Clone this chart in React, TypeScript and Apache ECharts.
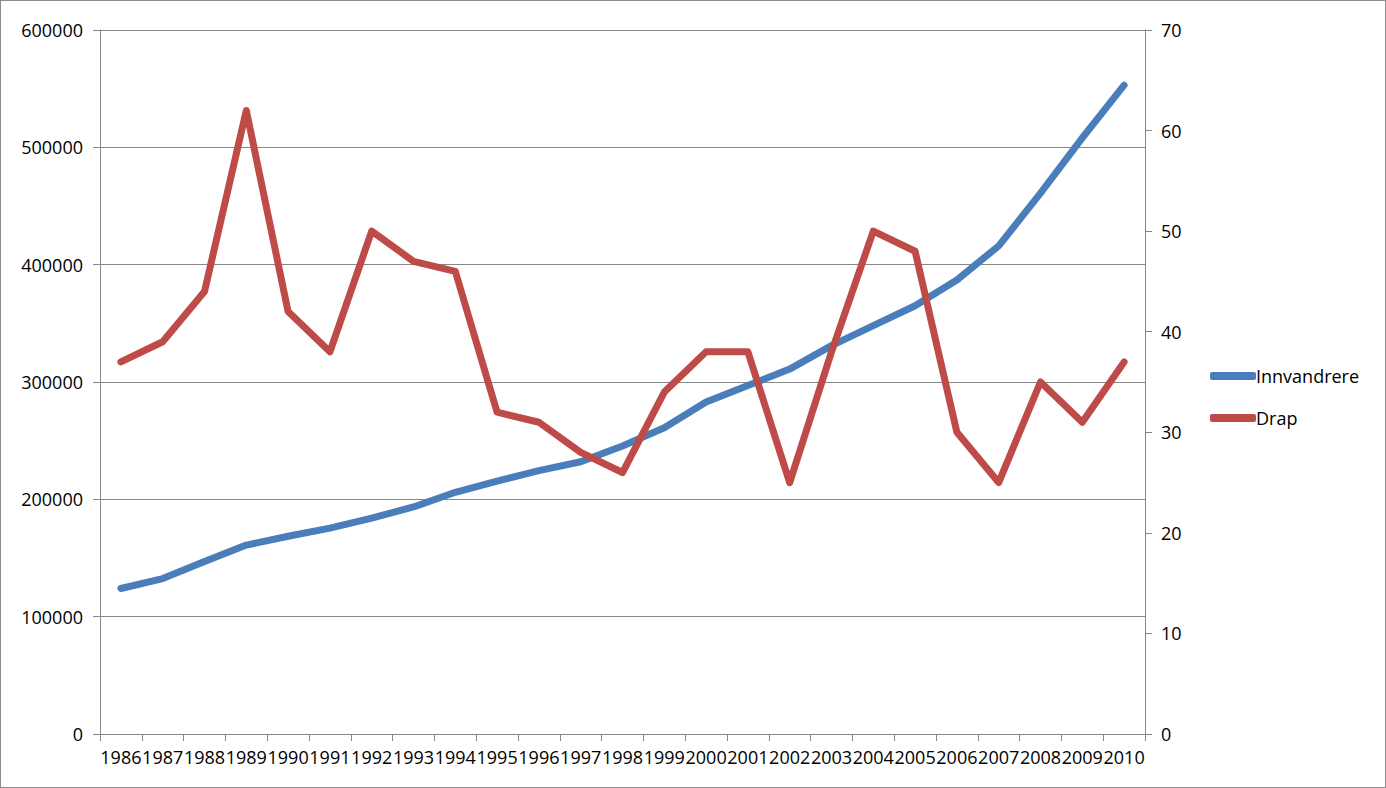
import React, { useEffect, useRef } from "react";
import * as echarts from "echarts";

const years = ["1986","1987","1988","1989","1990","1991","1992","1993","1994","1995","1996","1997","1998","1999","2000","2001","2002","2003","2004","2005","2006","2007","2008","2009","2010"];
const innvandrere = [124000,132500,147000,161000,168500,175500,184000,193500,206000,215500,224500,232000,245500,261000,283000,297000,311000,331000,348000,365000,387000,416000,461000,508000,553000];
const drap = [37,39,44,62,42,38,50,47,46,32,31,28,26,34,38,38,25,38,50,48,30,25,35,31,37];

const FONT = "'Open Sans', 'Noto Sans', sans-serif";
const GRAY = "#878787";

export default function App() {
  const ref = useRef<HTMLDivElement>(null);
  useEffect(() => {
    document.body.style.margin = "0";
    const chart = echarts.init(ref.current!, null, { renderer: "svg" });
    chart.setOption({
      animation: false,
      textStyle: { fontFamily: FONT },
      grid: { left: 99, right: 240, top: 29, bottom: 53, containLabel: false },
      legend: {
        orient: "vertical",
        left: 1204,
        top: 361,
        itemWidth: 46,
        itemHeight: 8,
        itemGap: 24,
        icon: "roundRect",
        textStyle: { fontFamily: FONT, fontSize: 18, color: "#000", padding: [0, 0, 0, -5] },
        data: ["Innvandrere", "Drap"],
      },
      xAxis: {
        type: "category",
        data: years,
        boundaryGap: true,
        axisLine: { lineStyle: { color: GRAY, width: 1 } },
        axisTick: { show: true, length: 7, lineStyle: { color: GRAY } },
        axisLabel: { color: "#000", fontSize: 18, margin: 14, interval: 0, fontFamily: FONT },
        splitLine: { show: false },
      },
      yAxis: [
        {
          type: "value",
          min: 0,
          max: 600000,
          interval: 100000,
          axisLine: { show: true, lineStyle: { color: GRAY } },
          axisTick: { show: true, length: 7, lineStyle: { color: GRAY } },
          axisLabel: { color: "#000", fontSize: 18, margin: 17, fontFamily: FONT, formatter: (v: number) => String(v) },
          splitLine: { show: true, lineStyle: { color: GRAY, width: 1 } },
        },
        {
          type: "value",
          min: 0,
          max: 70,
          interval: 10,
          position: "right",
          axisLine: { show: true, lineStyle: { color: GRAY } },
          axisTick: { show: true, length: 7, lineStyle: { color: GRAY } },
          axisLabel: { color: "#000", fontSize: 18, margin: 16, fontFamily: FONT },
          splitLine: { show: false },
        },
      ],
      series: [
        {
          name: "Innvandrere",
          type: "line",
          yAxisIndex: 0,
          data: innvandrere,
          showSymbol: false,
          symbol: "none",
          itemStyle: { color: "#4a7ebb" },
          lineStyle: { color: "#4a7ebb", width: 7, cap: "round", join: "round" },
        },
        {
          name: "Drap",
          type: "line",
          yAxisIndex: 1,
          data: drap,
          showSymbol: false,
          symbol: "none",
          itemStyle: { color: "#be4b48" },
          lineStyle: { color: "#be4b48", width: 7, cap: "round", join: "round" },
        },
      ],
    });
    return () => chart.dispose();
  }, []);
  return (
    <div
      ref={ref}
      style={{
        position: "absolute",
        left: 0,
        top: 0,
        width: 1386,
        height: 788,
        boxSizing: "border-box",
        border: "1px solid #8c8c8c",
        background: "#fff",
      }}
    />
  );
}
